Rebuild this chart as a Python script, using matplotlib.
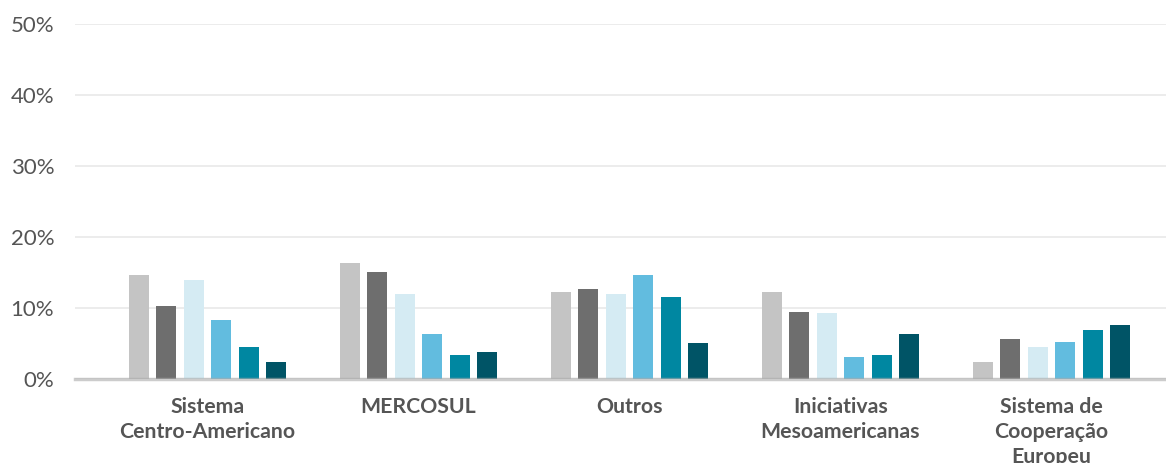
import matplotlib
matplotlib.use("Agg")
import matplotlib.pyplot as plt
import numpy as np

categories = ["Sistema\nCentro-Americano", "MERCOSUL", "Outros",
              "Iniciativas\nMesoamericanas", "Sistema de\nCooperação\nEuropeu"]
series_names = ["S1", "S2", "S3", "S4", "S5", "S6"]
values = [
    [14.6, 16.3, 12.3, 12.3, 2.4],
    [10.3, 15.1, 12.7, 9.4, 5.6],
    [13.9, 12.0, 12.0, 9.3, 4.5],
    [8.3, 6.3, 14.6, 3.1, 5.2],
    [4.5, 3.4, 11.5, 3.4, 6.9],
    [2.4, 3.8, 5.1, 6.3, 7.6],
]
colors = ["#c4c4c4", "#6e6e6e", "#d5ebf3", "#62bcdf", "#0087a1", "#005466"]
yticks = [0, 10, 20, 30, 40, 50]
ytick_labels = ["0%", "10%", "20%", "30%", "40%", "50%"]

plt.rcParams['font.family'] = ['Lato', 'DejaVu Sans']
fig = plt.figure(figsize=(11.66, 4.63), dpi=100)
ax = fig.add_axes([75/1166, 84/463, 1 - 75/1166, (379 - 24)/463])

x = np.arange(len(categories))
step = 0.1303
width = 0.0948
for i, (name, vals) in enumerate(zip(series_names, values)):
    ax.bar(x + (i - 2.5) * step, vals, width=width, color=colors[i], label=name, zorder=2)

ax.set_ylim(0, 50)
ax.set_xlim(-132.5/211, (1166 - 207.5)/211)
ax.set_yticks(yticks)
ax.set_yticklabels(ytick_labels, fontsize=16, color="#555555")
ax.set_xticks(x)
ax.set_xticklabels(categories, fontsize=15.3, fontweight="bold", color="#555555", linespacing=1.3)
ax.tick_params(axis="both", length=0)
ax.tick_params(axis="y", pad=15)
ax.tick_params(axis="x", pad=13)
for s in ax.spines.values():
    s.set_visible(False)
ax.grid(axis="y", color="#ebebeb", linewidth=1.3, zorder=0)
ax.axhline(0, color="#aaaaaa", alpha=0.6, linewidth=2.5, zorder=3, clip_on=False)

fig.savefig("out.png", dpi=100)
